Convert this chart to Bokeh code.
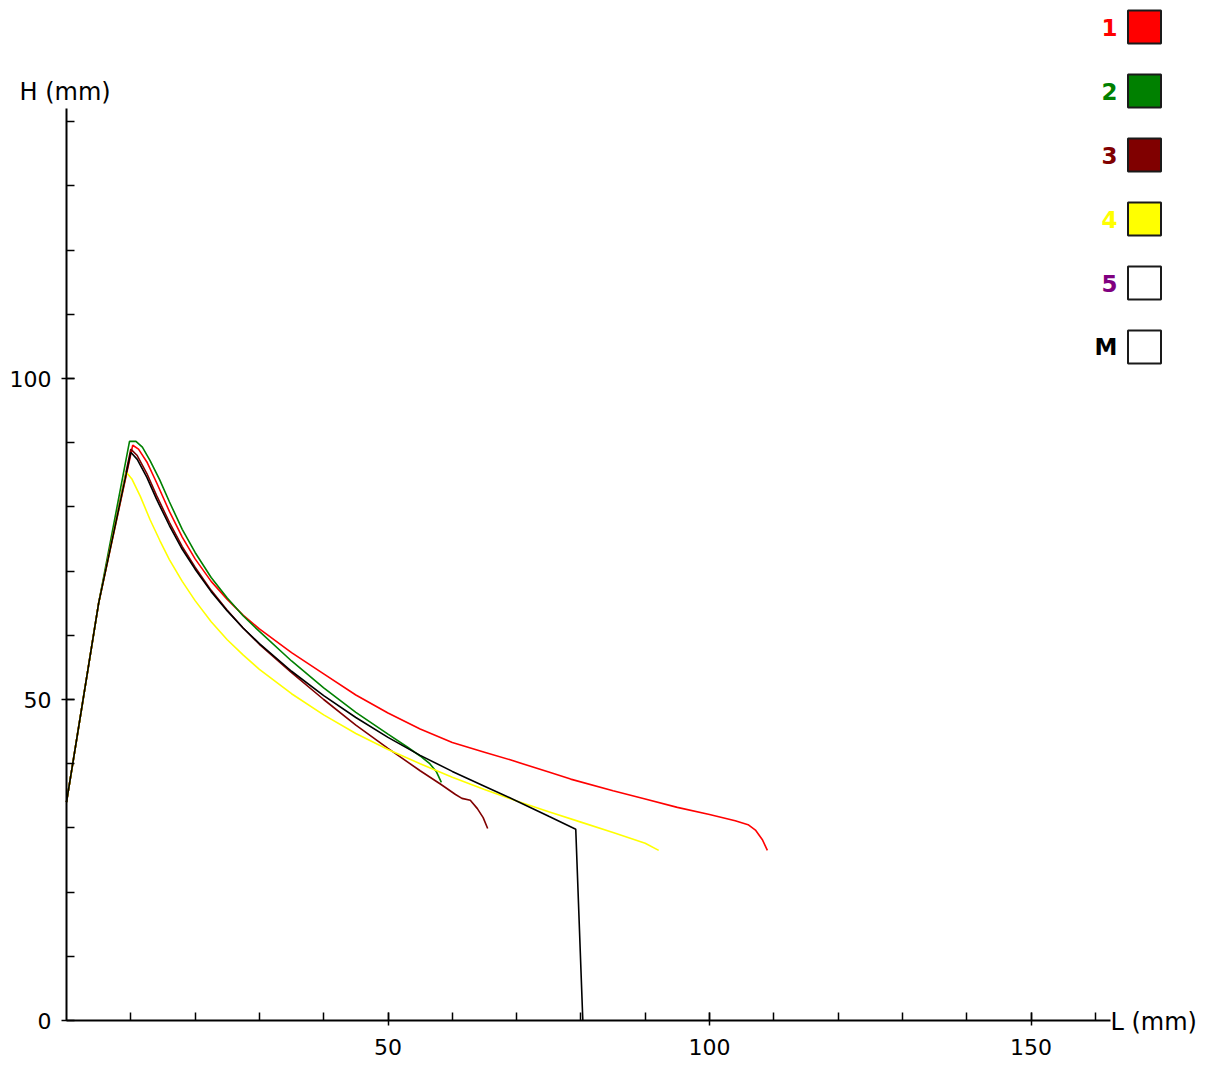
from bokeh.plotting import figure
from bokeh.models import Range1d, FixedTicker, Label
from bokeh.core.properties import value
from bokeh.embed import file_html
from bokeh.resources import INLINE

# Profiles H(L) in millimetres, one pair of lists per run
L_1 = [0, 5, 10.3, 11.2, 12.5, 14, 16, 18, 20, 22.5, 25, 27.5, 30, 35, 40, 45, 50, 55, 60, 65, 69,
       75, 78.4, 85, 90, 95, 100, 104, 106, 107.2, 108.2, 109]
H_1 = [34, 65, 89.6, 89.0, 87.0, 83.8, 79.3, 75.3, 71.9, 68.4, 65.6, 63.1, 61.0, 57.3, 54.0, 50.7,
       47.9, 45.4, 43.3, 41.8, 40.6, 38.7, 37.6, 35.8, 34.5, 33.2, 32.1, 31.1, 30.5, 29.6, 28.2, 26.5]

L_2 = [0, 5, 9.8, 10.8, 11.8, 13, 14.5, 16, 18, 20, 22.5, 25, 27.5, 30, 35, 40, 45, 50, 53, 55,
       56.5, 57.5, 58.3]
H_2 = [34, 65, 90.2, 90.2, 89.3, 87.2, 84.2, 80.8, 76.5, 72.9, 69.0, 65.8, 63.0, 60.6, 56.0, 51.8,
       48.0, 44.6, 42.6, 41.2, 40.0, 38.8, 37.1]

L_3 = [0, 5, 10, 11, 12.5, 14, 16, 18, 20, 22.5, 25, 27.5, 30, 35, 40, 45, 50, 55, 58.2, 60.5,
       61.5, 62.8, 63.9, 64.8, 65.5]
H_3 = [34, 65, 89.0, 88.0, 85.2, 81.8, 77.6, 73.8, 70.6, 67.0, 63.9, 61.1, 58.6, 54.2, 50.0, 46.0,
       42.4, 38.9, 36.8, 35.2, 34.6, 34.3, 33.0, 31.6, 29.9]

L_4 = [0, 5, 9.3, 10.2, 11.5, 13, 14.5, 16, 18, 20, 22.5, 25, 27.5, 30, 35, 40, 45, 50, 55, 60,
       65, 70, 75, 80, 85, 90, 92.1]
H_4 = [34, 65, 85.4, 84.3, 81.6, 78.0, 74.8, 71.8, 68.4, 65.4, 62.1, 59.3, 56.9, 54.7, 50.9, 47.6,
       44.7, 42.2, 40.0, 37.9, 36.0, 34.2, 32.5, 30.9, 29.3, 27.6, 26.5]

L_5 = []
H_5 = []

L_M = [0, 5, 10, 11, 12.5, 14, 16, 18, 20, 22.5, 25, 27.5, 30, 35, 40, 45, 50, 55, 60, 65, 70,
       75, 79.2, 80.3]
H_M = [34, 65, 88.5, 87.4, 84.6, 81.2, 77.1, 73.4, 70.3, 66.8, 63.8, 61.1, 58.7, 54.4, 50.6, 47.2,
       44.1, 41.3, 38.8, 36.5, 34.2, 31.8, 29.8, 0]

series_names = ["1", "2", "3", "4", "5", "M"]
line_colors = ["#ff0000", "#008000", "#800000", "#ffff00", "#800080", "#000000"]
swatch_fills = ["#ff0000", "#008000", "#800000", "#ffff00", "#ffffff", "#ffffff"]
series_L = [L_1, L_2, L_3, L_4, L_5, L_M]
series_H = [H_1, H_2, H_3, H_4, H_5, H_M]

x_major = [50, 100, 150]
x_minor = list(range(10, 170, 10))
y_major = [0, 50, 100]
y_minor = list(range(10, 150, 10))
x_axis_end = 162.4
y_axis_end = 142

# canvas geometry: the plot area fills the whole page, axes sit at L=0 / H=0
W, H = 1210, 1066
ORIGIN_X, ORIGIN_Y = 66, 1020   # pixel position of (0, 0), from top-left
SX, SY = 6.43, 6.42             # pixels per mm on each axis

FONT = "DejaVu Sans"

def to_x(px):
    return (px - ORIGIN_X) / SX

def to_y(py):
    return (ORIGIN_Y - py) / SY

p = figure(width=W, height=H, output_backend="svg", toolbar_location=None,
           x_range=Range1d(to_x(0), to_x(W)), y_range=Range1d(to_y(H), to_y(0)),
           min_border=0)
p.outline_line_color = None
p.grid.visible = False
p.background_fill_color = "#ffffff"
p.border_fill_color = "#ffffff"

for ax, major, minor, end in ((p.xaxis[0], x_major, x_minor, x_axis_end),
                              (p.yaxis[0], y_major, y_minor, y_axis_end)):
    ax.fixed_location = 0
    ax.ticker = FixedTicker(ticks=major, minor_ticks=minor)
    ax.bounds = (0, end)
    ax.axis_line_width = 2
    ax.axis_line_color = "#000000"
    ax.major_tick_line_width = 1.5
    ax.minor_tick_line_width = 1.5
    ax.major_tick_line_color = "#000000"
    ax.minor_tick_line_color = "#000000"
    ax.major_tick_in = 8
    ax.major_tick_out = 5
    ax.minor_tick_in = 8
    ax.minor_tick_out = 0
    ax.major_label_text_font = FONT
    ax.major_label_text_font_size = "22px"
    ax.major_label_text_color = "#000000"

p.xaxis.major_label_standoff = 13
p.yaxis.major_label_standoff = 10

# profiles, mean curve drawn last
for L, Hh, c in zip(series_L, series_H, line_colors):
    if L:
        p.line(L, Hh, line_color=c, line_width=1.6)

# axis titles
p.add_layout(Label(x=to_x(19), y=to_y(91), text="H (mm)",
                   text_font=FONT, text_font_size="24px", text_color="#000000",
                   text_baseline="middle", text_align="left"))
p.add_layout(Label(x=to_x(1110), y=to_y(1021), text="L (mm)",
                   text_font=FONT, text_font_size="24px", text_color="#000000",
                   text_baseline="middle", text_align="left"))

# key in the top right corner
key_y = [to_y(26.5 + 64 * i) for i in range(len(series_names))]
key_x_box = [to_x(1144)] * len(series_names)
key_x_txt = [to_x(1117)] * len(series_names)
p.scatter(key_x_box, key_y, marker="square", size=33, fill_color=swatch_fills,
          line_color="#1a1a1a", line_width=2)
p.text(key_x_txt, key_y, text=series_names, text_color=line_colors,
       text_font=value(FONT), text_font_size="23px", text_font_style="bold",
       text_align="right", text_baseline="middle")

open("out.html", "w").write(file_html(p, INLINE))
